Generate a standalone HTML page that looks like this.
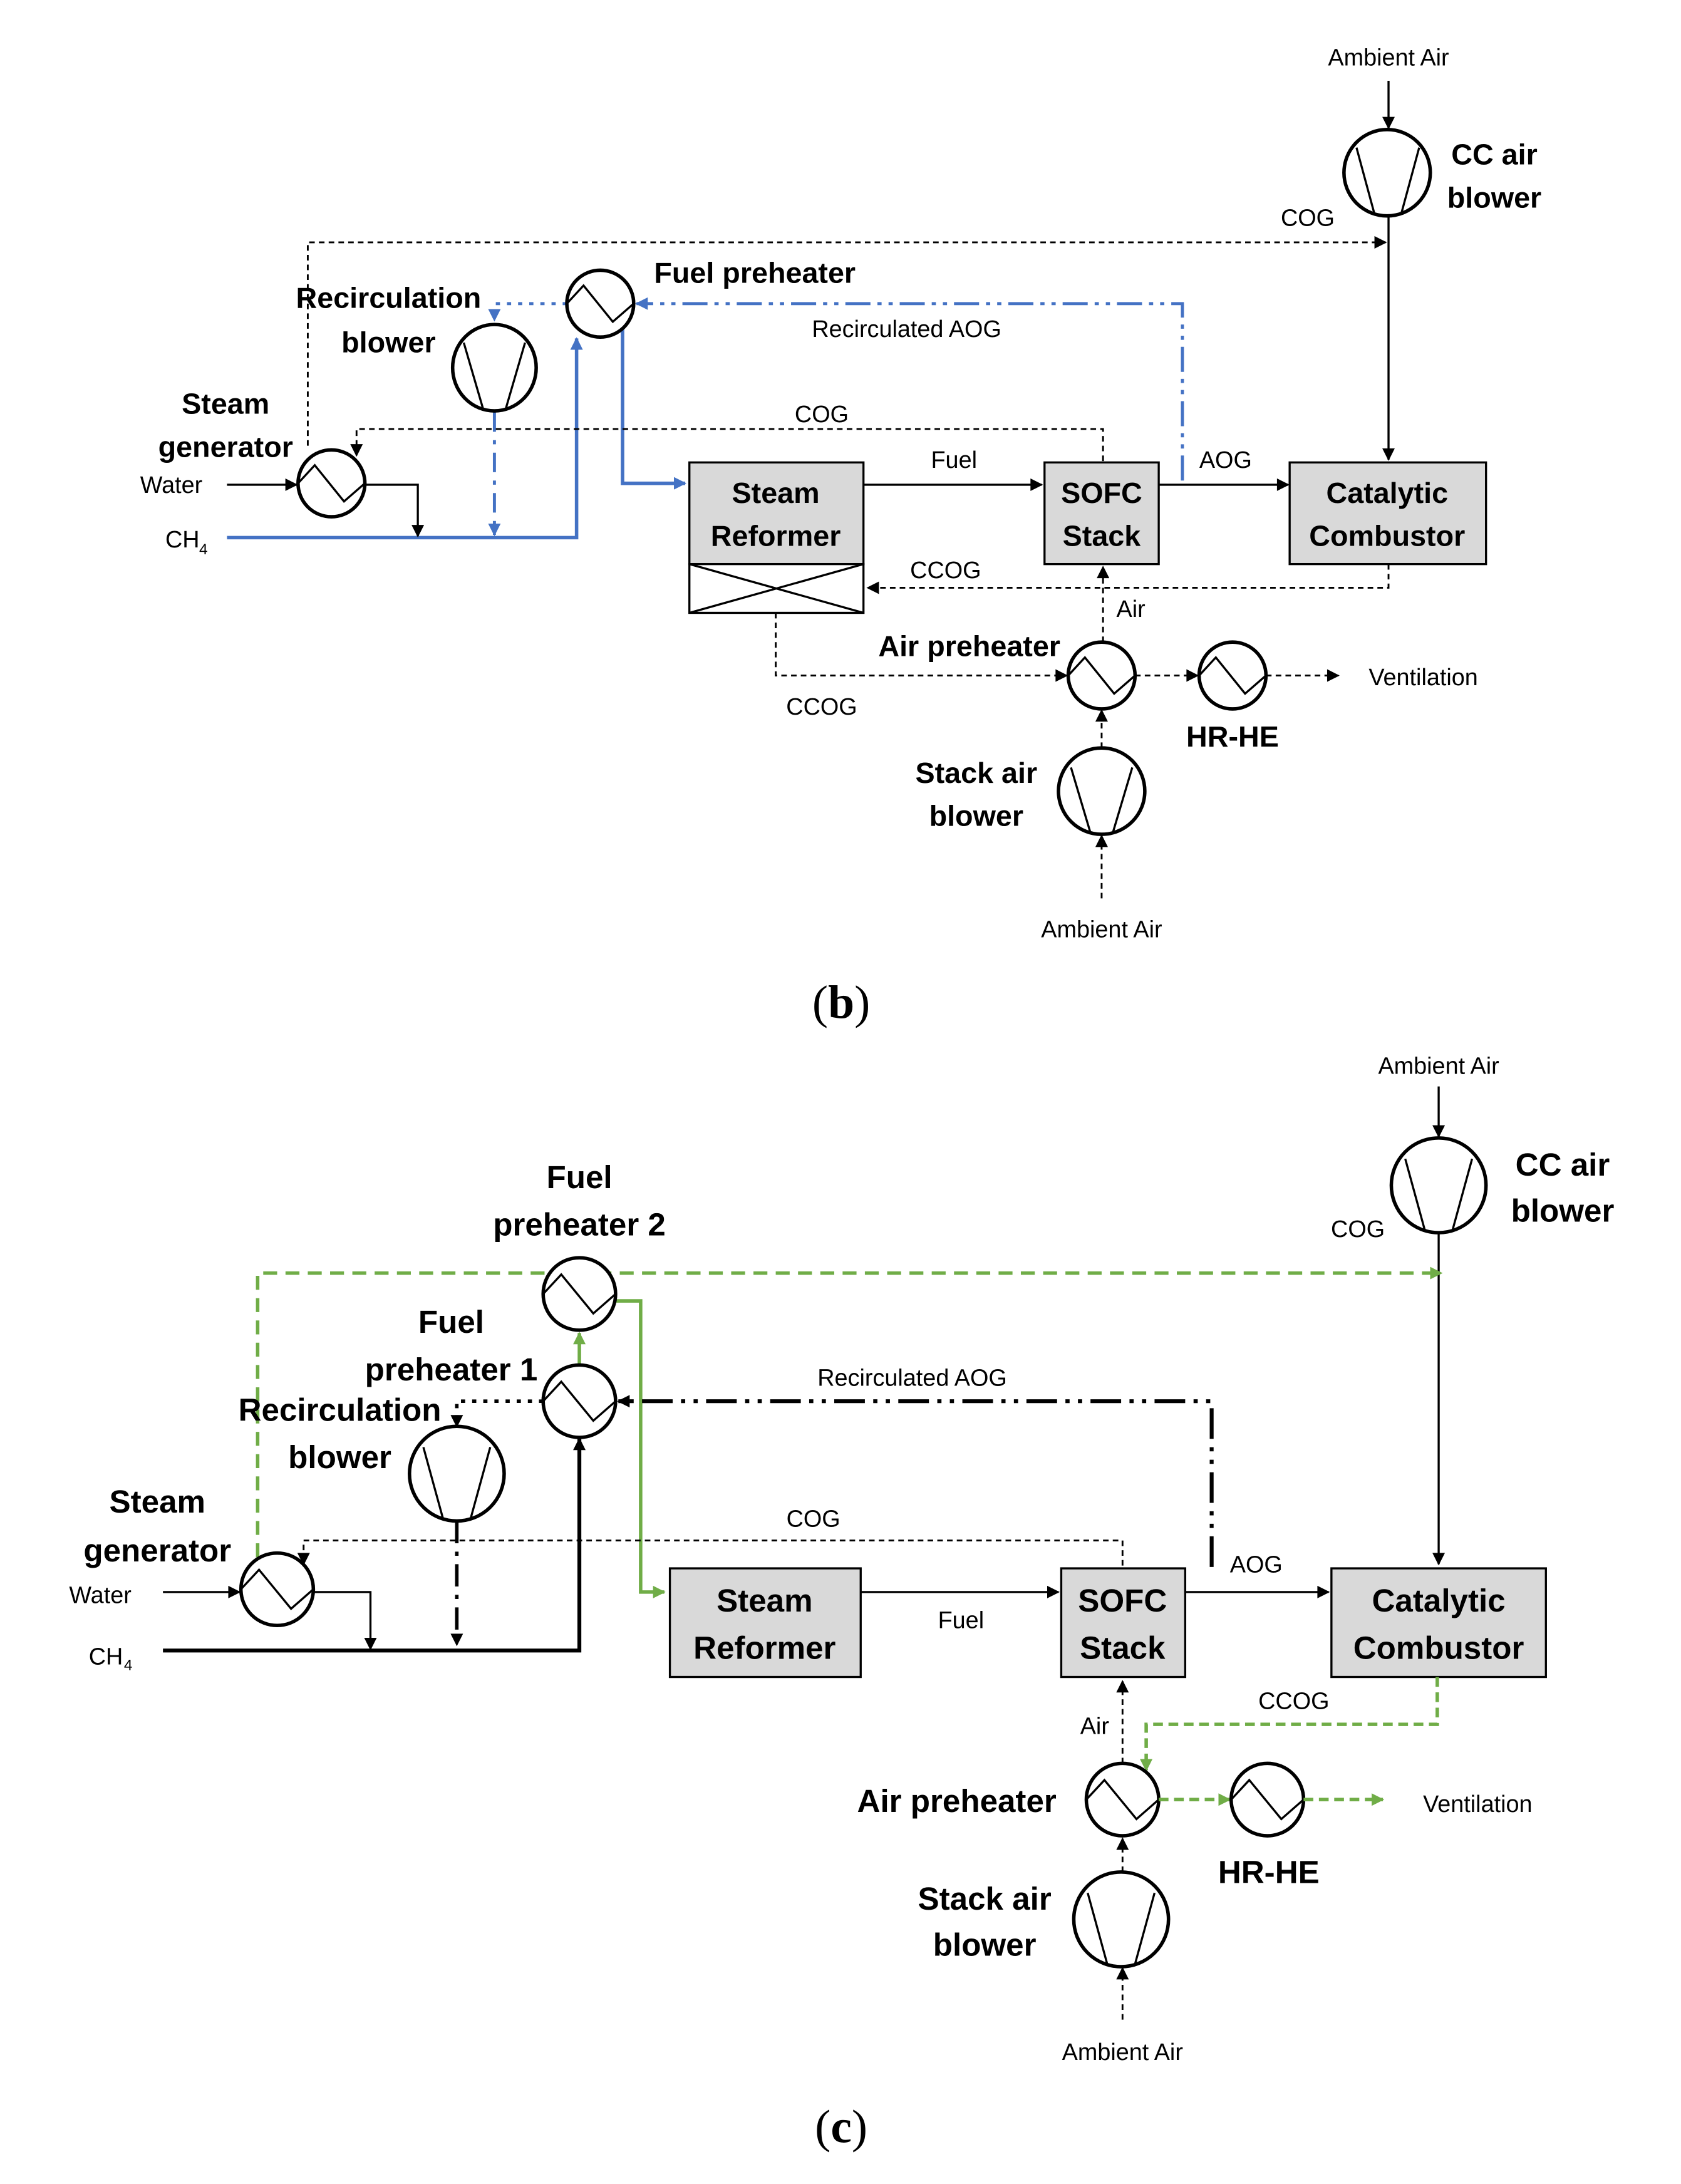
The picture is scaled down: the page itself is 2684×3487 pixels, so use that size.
<!DOCTYPE html>
<html><head><meta charset="utf-8"><style>html,body{margin:0;padding:0;background:#fff}svg{display:block}</style></head>
<body>
<svg xmlns="http://www.w3.org/2000/svg" width="2684" height="3487" viewBox="0 0 1207 1568" preserveAspectRatio="none" font-family="Liberation Sans, sans-serif">
<defs>
<marker id="ak" viewBox="0 0 10 10" refX="9" refY="5" markerWidth="10" markerHeight="9" markerUnits="userSpaceOnUse" orient="auto"><path d="M0,0L10,5L0,10z" fill="#000"/></marker>
<marker id="ab" viewBox="0 0 10 10" refX="9" refY="5" markerWidth="10" markerHeight="9" markerUnits="userSpaceOnUse" orient="auto"><path d="M0,0L10,5L0,10z" fill="#4472c4"/></marker>
<marker id="ag" viewBox="0 0 10 10" refX="9" refY="5" markerWidth="10" markerHeight="9" markerUnits="userSpaceOnUse" orient="auto"><path d="M0,0L10,5L0,10z" fill="#70ad47"/></marker>
</defs>
<style>
.l{font-size:17px;text-anchor:middle}
.b{font-size:21px;font-weight:bold;text-anchor:middle}
.c{font-size:23px;font-weight:bold;text-anchor:middle}
.s{fill:none;stroke:#000;stroke-width:1.5}
.d{fill:none;stroke:#000;stroke-width:1.3;stroke-dasharray:4 3}
.box{fill:#d9d9d9;stroke:#000;stroke-width:1.5}
.eq{fill:#fff;stroke:#000;stroke-width:2.5}
</style>

<!-- ========== (b) ========== -->
<text class="l" x="997" y="47">Ambient Air</text>
<line class="s" x1="997" y1="58" x2="997" y2="92" marker-end="url(#ak)"/>
<circle class="eq" cx="996" cy="124" r="31"/>
<path class="s" stroke-width="2.5" d="M974,106L987,154M1019,106L1006,154"/>
<text class="b" x="1073" y="118">CC air</text><text class="b" x="1073" y="149">blower</text>
<text class="l" x="939" y="162">COG</text>
<path class="d" d="M221,320V174H995" marker-end="url(#ak)"/>
<line class="s" x1="997" y1="155" x2="997" y2="330" marker-end="url(#ak)"/>

<path d="M849,345V218H457" fill="none" stroke="#4472c4" stroke-width="2.2" stroke-dasharray="18 5 3 5 3 5" marker-end="url(#ab)"/>
<text class="l" x="651" y="242">Recirculated AOG</text>
<path d="M407,218H355V230" fill="none" stroke="#4472c4" stroke-width="2.2" stroke-dasharray="3 5" marker-end="url(#ab)"/>
<path d="M355,296V384" fill="none" stroke="#4472c4" stroke-width="2.2" stroke-dasharray="14 6 3 6" marker-end="url(#ab)"/>
<path d="M163,386H414V243" fill="none" stroke="#4472c4" stroke-width="2.5" marker-end="url(#ab)"/>
<path d="M447,230V347H492" fill="none" stroke="#4472c4" stroke-width="2.5" marker-end="url(#ab)"/>

<circle class="eq" cx="431" cy="218" r="24"/>
<path class="s" stroke-width="2" d="M407,218L419,205L440,231L455,218"/>
<text class="b" x="542" y="203">Fuel preheater</text>
<ellipse class="eq" cx="355" cy="264" rx="30" ry="31"/>
<path class="s" stroke-width="2.5" d="M333,246L347,294M377,246L363,294"/>
<text class="b" x="279" y="221">Recirculation</text><text class="b" x="279" y="253">blower</text>

<text class="b" x="162" y="297">Steam</text><text class="b" x="162" y="328">generator</text>
<text class="l" x="123" y="354">Water</text>
<line class="s" x1="163" y1="348" x2="213" y2="348" marker-end="url(#ak)"/>
<path class="s" d="M262,348H300V385" marker-end="url(#ak)"/>
<text class="l" x="131" y="393">CH</text><text x="143" y="398" font-size="11">4</text>
<circle class="eq" cx="238" cy="347" r="24"/>
<path class="s" stroke-width="2" d="M214,347L226,334L247,360L262,347"/>
<path class="d" d="M792,331V308H256V327" marker-end="url(#ak)"/>
<text class="l" x="590" y="303">COG</text>

<rect class="box" x="495" y="332" width="125" height="73"/>
<rect x="495" y="405" width="125" height="35" fill="#fff" stroke="#000" stroke-width="1.5"/>
<path class="s" d="M495,405L620,440M620,405L495,440"/>
<text class="b" x="557" y="361">Steam</text><text class="b" x="557" y="392">Reformer</text>
<line class="s" x1="620" y1="348" x2="748" y2="348" marker-end="url(#ak)"/>
<text class="l" x="685" y="336">Fuel</text>
<rect class="box" x="750" y="332" width="82" height="73"/>
<text class="b" x="791" y="361">SOFC</text><text class="b" x="791" y="392">Stack</text>
<line class="s" x1="832" y1="348" x2="925" y2="348" marker-end="url(#ak)"/>
<text class="l" x="880" y="336">AOG</text>
<rect class="box" x="926" y="332" width="141" height="73"/>
<text class="b" x="996" y="361">Catalytic</text><text class="b" x="996" y="392">Combustor</text>
<path class="d" d="M997,405V422H623" marker-end="url(#ak)"/>
<text class="l" x="679" y="415">CCOG</text>
<line class="d" x1="792" y1="461" x2="792" y2="407" marker-end="url(#ak)"/>
<text class="l" x="812" y="443">Air</text>
<path class="d" stroke-dasharray="3 2" d="M557,440V485H766" marker-end="url(#ak)"/>
<text class="l" x="590" y="513">CCOG</text>
<circle class="eq" cx="791" cy="485" r="24"/>
<path class="s" stroke-width="2" d="M767,485L779,472L800,498L815,485"/>
<text class="b" x="696" y="471">Air preheater</text>
<line class="d" stroke-dasharray="3 2" x1="815" y1="485" x2="860" y2="485" marker-end="url(#ak)"/>
<circle class="eq" cx="885" cy="485" r="24"/>
<path class="s" stroke-width="2" d="M861,485L873,472L894,498L909,485"/>
<text class="b" x="885" y="536">HR-HE</text>
<line class="d" stroke-dasharray="3 2" x1="909" y1="485" x2="961" y2="485" marker-end="url(#ak)"/>
<text class="l" x="1022" y="492">Ventilation</text>
<ellipse class="eq" cx="791" cy="568" rx="31" ry="31"/>
<path class="s" stroke-width="2.5" d="M769,551L783,598M813,551L799,598"/>
<text class="b" x="701" y="562">Stack air</text><text class="b" x="701" y="593">blower</text>
<line class="d" x1="791" y1="537" x2="791" y2="510" marker-end="url(#ak)"/>
<line class="d" x1="791" y1="645" x2="791" y2="600" marker-end="url(#ak)"/>
<text class="l" x="791" y="673">Ambient Air</text>
<text x="604" y="731" font-family="Liberation Serif, serif" font-size="34" text-anchor="middle">(<tspan font-weight="bold">b</tspan>)</text>

<!-- ========== (c) ========== -->
<text class="l" x="1033" y="771">Ambient Air</text>
<line class="s" x1="1033" y1="780" x2="1033" y2="816" marker-end="url(#ak)"/>
<ellipse class="eq" cx="1033" cy="851" rx="34" ry="34"/>
<path class="s" stroke-width="2.5" d="M1009,832L1023,883M1057,832L1043,883"/>
<text class="c" x="1122" y="844">CC air</text><text class="c" x="1122" y="877">blower</text>
<text class="l" x="975" y="888">COG</text>
<line class="s" x1="1033" y1="886" x2="1033" y2="1123" marker-end="url(#ak)"/>

<path d="M185,1118V914H1035" fill="none" stroke="#70ad47" stroke-width="2.5" stroke-dasharray="10 6" marker-end="url(#ag)"/>
<line x1="416" y1="980" x2="416" y2="957" stroke="#70ad47" stroke-width="2.5" marker-end="url(#ag)"/>
<path d="M442,934H460V1143H477" fill="none" stroke="#70ad47" stroke-width="2.5" marker-end="url(#ag)"/>

<path d="M870,1125V1006H444" fill="none" stroke="#000" stroke-width="2.8" stroke-dasharray="22 6 3 6 3 6" marker-end="url(#ak)"/>
<text class="l" x="655" y="995">Recirculated AOG</text>
<path d="M390,1006H328V1024" fill="none" stroke="#000" stroke-width="2.5" stroke-dasharray="3 5" marker-end="url(#ak)"/>
<path d="M328,1092V1181" fill="none" stroke="#000" stroke-width="2.5" stroke-dasharray="16 6 3 6" marker-end="url(#ak)"/>
<path d="M117,1185H416V1033" fill="none" stroke="#000" stroke-width="2.8" marker-end="url(#ak)"/>

<circle class="eq" cx="416" cy="929" r="26"/>
<path class="s" stroke-width="2" d="M390,929L403,915L426,943L442,929"/>
<text class="c" x="416" y="853">Fuel</text><text class="c" x="416" y="887">preheater 2</text>
<circle class="eq" cx="416" cy="1006" r="26"/>
<path class="s" stroke-width="2" d="M390,1006L403,992L426,1020L442,1006"/>
<text class="c" x="324" y="957">Fuel</text><text class="c" x="324" y="991">preheater 1</text>
<ellipse class="eq" cx="328" cy="1058" rx="34" ry="34"/>
<path class="s" stroke-width="2.5" d="M304,1039L318,1090M352,1039L338,1090"/>
<text class="c" x="244" y="1020">Recirculation</text><text class="c" x="244" y="1054">blower</text>

<text class="c" x="113" y="1086">Steam</text><text class="c" x="113" y="1121">generator</text>
<text class="l" x="72" y="1151">Water</text>
<line class="s" x1="117" y1="1143" x2="172" y2="1143" marker-end="url(#ak)"/>
<path class="s" d="M225,1143H266V1184" marker-end="url(#ak)"/>
<text class="l" x="76" y="1195">CH</text><text x="89" y="1199" font-size="11">4</text>
<circle class="eq" cx="199" cy="1141" r="26"/>
<path class="s" stroke-width="2" d="M173,1141L186,1127L209,1155L225,1141"/>
<path class="d" d="M806,1124V1106H218V1123" marker-end="url(#ak)"/>
<text class="l" x="584" y="1096">COG</text>

<rect class="box" x="481" y="1126" width="137" height="78"/>
<text class="c" x="549" y="1157">Steam</text><text class="c" x="549" y="1191">Reformer</text>
<line class="s" x1="618" y1="1143" x2="760" y2="1143" marker-end="url(#ak)"/>
<text class="l" x="690" y="1169">Fuel</text>
<rect class="box" x="762" y="1126" width="89" height="78"/>
<text class="c" x="806" y="1157">SOFC</text><text class="c" x="806" y="1191">Stack</text>
<line class="s" x1="851" y1="1143" x2="954" y2="1143" marker-end="url(#ak)"/>
<text class="l" x="902" y="1129">AOG</text>
<rect class="box" x="956" y="1126" width="154" height="78"/>
<text class="c" x="1033" y="1157">Catalytic</text><text class="c" x="1033" y="1191">Combustor</text>
<path d="M1032,1204V1238H823V1271" fill="none" stroke="#70ad47" stroke-width="2.5" stroke-dasharray="7 4" marker-end="url(#ag)"/>
<text class="l" x="929" y="1227">CCOG</text>
<line class="d" x1="806" y1="1266" x2="806" y2="1207" marker-end="url(#ak)"/>
<text class="l" x="786" y="1245">Air</text>
<circle class="eq" cx="806" cy="1292" r="26"/>
<path class="s" stroke-width="2" d="M780,1292L793,1278L816,1306L832,1292"/>
<text class="c" x="687" y="1301">Air preheater</text>
<line x1="832" y1="1292" x2="883" y2="1292" stroke="#70ad47" stroke-width="2.5" stroke-dasharray="7 4" marker-end="url(#ag)"/>
<circle class="eq" cx="910" cy="1292" r="26"/>
<path class="s" stroke-width="2" d="M884,1292L897,1278L920,1306L936,1292"/>
<text class="c" x="911" y="1352">HR-HE</text>
<line x1="936" y1="1292" x2="993" y2="1292" stroke="#70ad47" stroke-width="2.5" stroke-dasharray="7 4" marker-end="url(#ag)"/>
<text class="l" x="1061" y="1301">Ventilation</text>
<ellipse class="eq" cx="805" cy="1378" rx="34" ry="34"/>
<path class="s" stroke-width="2.5" d="M781,1359L795,1410M829,1359L815,1410"/>
<text class="c" x="707" y="1371">Stack air</text><text class="c" x="707" y="1404">blower</text>
<line class="d" x1="806" y1="1344" x2="806" y2="1320" marker-end="url(#ak)"/>
<line class="d" x1="806" y1="1450" x2="806" y2="1413" marker-end="url(#ak)"/>
<text class="l" x="806" y="1479">Ambient Air</text>
<text x="604" y="1538" font-family="Liberation Serif, serif" font-size="34" text-anchor="middle">(<tspan font-weight="bold">c</tspan>)</text>
</svg>
</body></html>
